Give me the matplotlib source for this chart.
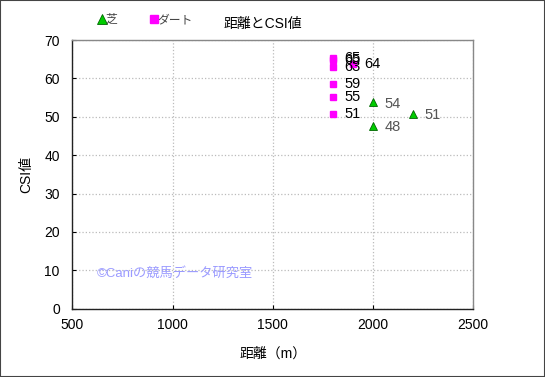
import matplotlib
matplotlib.use('Agg')
import matplotlib.pyplot as plt
from matplotlib.lines import Line2D

plt.rcParams['font.family'] = ['Liberation Sans', 'Noto Sans CJK JP']

# turf (芝) and dirt (ダート) points: distance, CSI value
turf_dist = [2000, 2000, 2200]
turf_csi = [53.8, 47.6, 50.7]
dirt_dist = [1800, 1800, 1800, 1900, 1800, 1800, 1800]
dirt_csi = [65.4, 64.8, 63.0, 63.7, 58.6, 55.1, 50.6]

xticks = [500, 1000, 1500, 2000, 2500]
yticks = [0, 10, 20, 30, 40, 50, 60, 70]

fig = plt.figure(figsize=(5.45, 3.77), dpi=100)
ax = fig.add_axes([72.3/545, 1-308.7/377, 401/545, 268.7/377])

ax.plot(dirt_dist, dirt_csi, linestyle='none', marker='s', ms=4.6,
        color='#ff00ff', mec='#ff00ff', zorder=3)
ax.plot(turf_dist, turf_csi, linestyle='none', marker='^', ms=6.2,
        color='#00cc00', mec='#006600', mew=0.6, zorder=3)

for x, y in zip(dirt_dist, dirt_csi):
    ax.annotate(str(int(round(y))), (x, y), xytext=(8, 0), textcoords='offset points',
                va='center', ha='left', fontsize=10.5, color='black', zorder=4)
for x, y in zip(turf_dist, turf_csi):
    ax.annotate(str(int(round(y))), (x, y), xytext=(8, -1), textcoords='offset points',
                va='center', ha='left', fontsize=10.5, color='#555555', zorder=4)

ax.set_xlim(500, 2500)
ax.set_ylim(0, 70)
ax.set_xticks(xticks)
ax.set_yticks(yticks)
ax.tick_params(labelsize=10, length=3, direction='in', colors='black')
ax.tick_params(axis='x', pad=7)
ax.tick_params(axis='y', pad=9)
ax.grid(True, color='#bbbbbb', linestyle=':', linewidth=0.9)
for s in ['top', 'right']:
    ax.spines[s].set_color('#888888')
for s in ['left', 'bottom']:
    ax.spines[s].set_color('#222222')
for s in ax.spines.values():
    s.set_linewidth(1.0)

ax.set_xlabel('距離（m）', fontsize=10, labelpad=10)
ax.set_ylabel('CSI値', fontsize=10, labelpad=8)

ax.text(620, 9.3, '©Caniの競馬データ研究室', fontsize=9.5, color='#9b9bff', va='center', ha='left')

fig.text(263/545, 1-24/377, '距離とCSI値', fontsize=10, ha='center', va='center')

handles = [Line2D([], [], linestyle='none', marker='^', ms=6.5, color='#00cc00', mec='#006600', mew=0.6),
           Line2D([], [], linestyle='none', marker='s', ms=5.5, color='#ff00ff', mec='#ff00ff')]
fig.legend(handles, ['芝', 'ダート'], loc='center left', bbox_to_anchor=(88/545, 1-20/377),
           ncol=2, frameon=False, fontsize=8.5, handlelength=0.6, handletextpad=0.0,
           columnspacing=2.8, labelcolor='#444444')

fig.patches.append(plt.Rectangle((0, 0), 1, 1, transform=fig.transFigure, fill=False,
                                 edgecolor='#444444', linewidth=1.5))

fig.savefig('out.png', dpi=100)
